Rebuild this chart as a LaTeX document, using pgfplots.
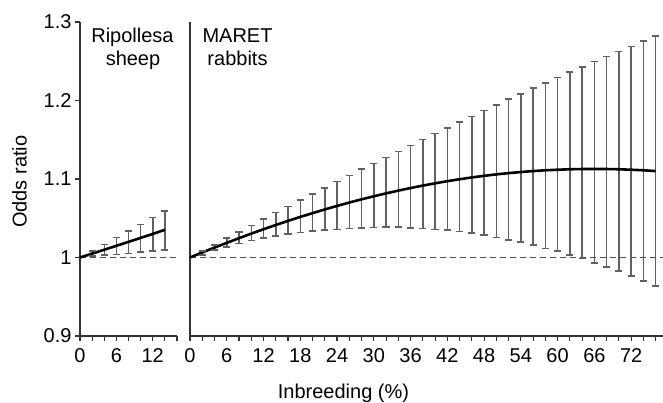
\documentclass[border=0pt]{standalone}
\usepackage{fontspec}
\setmainfont{Liberation Sans}
\usepackage{pgfplots}
\usepackage{pgfplotstable}
\pgfplotsset{compat=1.18}

% Ripollesa sheep: inbreeding (%), odds ratio, lower, upper
\pgfplotstableread{
x  y      lo     hi
0  1.0000 1.0000 1.0000
2  1.0049 1.0017 1.0084
4  1.0099 1.0030 1.0166
6  1.0149 1.0040 1.0255
8  1.0199 1.0050 1.0340
10 1.0250 1.0071 1.0420
12 1.0300 1.0085 1.0510
14 1.0353 1.0097 1.0594
}\sheep

% MARET rabbits
\pgfplotstableread{
x  y      lo     hi
0  1.0000 1.0000 1.0000
2  1.0064 1.0030 1.0085
4  1.0126 1.0093 1.0157
6  1.0187 1.0136 1.0250
8  1.0246 1.0178 1.0327
10 1.0304 1.0220 1.0408
12 1.0360 1.0246 1.0488
14 1.0414 1.0272 1.0573
16 1.0466 1.0297 1.0650
18 1.0517 1.0318 1.0730
20 1.0565 1.0340 1.0811
22 1.0612 1.0352 1.0887
24 1.0657 1.0357 1.0968
26 1.0700 1.0370 1.1045
28 1.0741 1.0378 1.1125
30 1.0780 1.0382 1.1197
32 1.0817 1.0386 1.1274
34 1.0852 1.0386 1.1350
36 1.0885 1.0378 1.1427
38 1.0916 1.0370 1.1503
40 1.0945 1.0357 1.1580
42 1.0972 1.0348 1.1652
44 1.0997 1.0331 1.1724
46 1.1020 1.0310 1.1796
48 1.1040 1.0285 1.1873
50 1.1059 1.0255 1.1945
52 1.1075 1.0225 1.2017
54 1.1089 1.0195 1.2085
56 1.1101 1.0157 1.2157
58 1.1111 1.0115 1.2225
60 1.1118 1.0081 1.2293
62 1.1124 1.0030 1.2361
64 1.1127 0.9987 1.2429
66 1.1128 0.9932 1.2497
68 1.1127 0.9881 1.2560
70 1.1124 0.9826 1.2624
72 1.1118 0.9762 1.2688
74 1.1111 0.9703 1.2756
76 1.1101 0.9639 1.2820
}\rabbits

\pgfplotsset{
  panel/.style={
    scale only axis, height=314pt, ymin=0.9, ymax=1.3,
    axis lines*=left,
    axis line style={-, black!80, line width=1.1pt},
    tick align=outside, major tick length=5pt, minor tick length=5pt,
    every tick/.style={black!80, line width=1.1pt},
    minor tick style={black!80, line width=1.1pt},
    /pgf/number format/assume math mode=true,
    ticklabel style={font=\fontsize{20}{24}\selectfont},
    xticklabel style={yshift=-4pt},
    clip=false,
  },
  ebar/.style={
    draw=none, mark=none,
    /pgfplots/error bars/y dir=both,
    /pgfplots/error bars/y explicit,
    /pgfplots/error bars/error bar style={draw=black!62, line width=1.5pt},
    /pgfplots/error bars/error mark=none,
  },
  ecap/.style={only marks, mark=-, mark size=3.6pt,
    mark options={draw=black!62, line width=1.4pt}},
  meanline/.style={black, line width=2.6pt, mark=none},
  refline/.style={black!70, line width=1pt, dash pattern=on 6pt off 4pt},
}

\begin{document}
\begin{tikzpicture}[font=\fontsize{20}{24}\selectfont]
\useasboundingbox (0,0) rectangle (663pt,403pt);

\begin{axis}[panel, at={(80pt,67pt)}, anchor=south west,
  width=97pt, xmin=0, xmax=16,
  xtick={0,6,12}, minor xtick={2,4,8,10,14,16},
  ytick={0.9,1,1.1,1.2,1.3}, yticklabels={0.9,1,1.1,1.2,1.3}]
  \addplot[refline] coordinates {(0,1) (16,1)};
  \addplot[skip coords between index={0}{1}, ebar] table[x=x, y=y,
    y error plus expr=\thisrow{hi}-\thisrow{y},
    y error minus expr=\thisrow{y}-\thisrow{lo}] {\sheep};
  \addplot[skip coords between index={0}{1}, ecap] table[x=x, y=hi] {\sheep};
  \addplot[skip coords between index={0}{1}, ecap] table[x=x, y=lo] {\sheep};
  \addplot[meanline] table[x=x, y=y] {\sheep};
\end{axis}

\begin{axis}[panel, at={(190pt,67pt)}, anchor=south west,
  width=473pt, xmin=0, xmax=77.2,
  xtick={0,6,...,72}, minor xtick={0,2,...,76},
  ytick=\empty]
  \addplot[refline] coordinates {(0,1) (77.2,1)};
  \addplot[skip coords between index={0}{1}, ebar] table[x=x, y=y,
    y error plus expr=\thisrow{hi}-\thisrow{y},
    y error minus expr=\thisrow{y}-\thisrow{lo}] {\rabbits};
  \addplot[skip coords between index={0}{1}, ecap] table[x=x, y=hi] {\rabbits};
  \addplot[skip coords between index={0}{1}, ecap] table[x=x, y=lo] {\rabbits};
  \addplot[meanline] table[x=x, y=y] {\rabbits};
\end{axis}

\node[anchor=base] at (132.5pt,360.7pt) {Ripollesa};
\node[anchor=base] at (133pt,337.3pt) {sheep};
\node[anchor=base] at (237.5pt,360.7pt) {MARET};
\node[anchor=base] at (237.5pt,337.3pt) {rabbits};
\node[anchor=base] at (343.5pt,4.5pt) {Inbreeding (\%)};
\node[anchor=base, rotate=90] at (26.7pt,221.3pt) {Odds ratio};
\end{tikzpicture}
\end{document}
